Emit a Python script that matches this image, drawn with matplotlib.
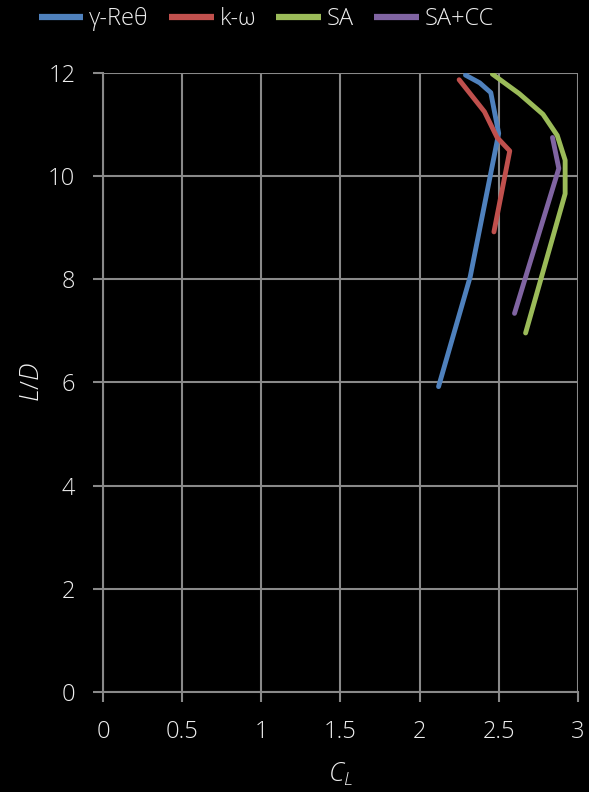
import matplotlib.pyplot as plt

# lift coefficient vs lift-to-drag ratio for each turbulence model
cl_gamma = [2.29, 2.38, 2.45, 2.50, 2.32, 2.12]
ld_gamma = [11.96, 11.81, 11.62, 10.83, 8.05, 5.92]

cl_kw = [2.25, 2.41, 2.49, 2.57, 2.47]
ld_kw = [11.87, 11.25, 10.75, 10.49, 8.92]

cl_sa = [2.46, 2.63, 2.78, 2.87, 2.92, 2.92, 2.67]
ld_sa = [11.98, 11.60, 11.20, 10.79, 10.31, 9.66, 6.96]

cl_sacc = [2.84, 2.88, 2.60]
ld_sacc = [10.75, 10.15, 7.34]

labels = ['γ-Reθ', 'k-ω', 'SA', 'SA+CC']
colors = ['#4f81bd', '#c0504d', '#9bbb59', '#8064a2']

plt.rcParams['font.family'] = ['Open Sans', 'DejaVu Sans']
plt.rcParams['font.weight'] = 'light'
plt.rcParams['mathtext.fontset'] = 'custom'
plt.rcParams['mathtext.it'] = 'Open Sans:italic:light'
plt.rcParams['mathtext.rm'] = 'Open Sans:light'
txt = '#eeeeee'
grid = '#898989'

fig = plt.figure(figsize=(5.89, 7.92), dpi=100, facecolor='black')
ax = fig.add_axes([0.175, 0.1263, 0.806, 0.7815], facecolor='black')

series = [(cl_gamma, ld_gamma), (cl_kw, ld_kw), (cl_sa, ld_sa), (cl_sacc, ld_sacc)]
lines = []
for (x, y), c, lab in zip(series, colors, labels):
    l, = ax.plot(x, y, color=c, lw=3.5, label=lab, solid_capstyle='round',
                 solid_joinstyle='round', zorder=3)
    lines.append(l)

ax.set_xlim(0, 3)
ax.set_ylim(0, 12)
ax.set_xticks([0, 0.5, 1, 1.5, 2, 2.5, 3])
ax.set_xticklabels(['0', '0.5', '1', '1.5', '2', '2.5', '3'])
ax.set_yticks(range(0, 13, 2))
ax.grid(True, color=grid, lw=1.5)
for s in ['top', 'right']:
    ax.spines[s].set_visible(False)
for s in ['left', 'bottom']:
    ax.spines[s].set_color(grid)
    ax.spines[s].set_linewidth(1.5)
ax.tick_params(colors=grid, labelcolor=txt, labelsize=17, length=7, width=1.5,
               direction='out')
ax.tick_params(axis='x', pad=13)
ax.tick_params(axis='y', pad=13)

ax.set_xlabel('$C_L$', color=txt, fontsize=19, labelpad=12)
ax.set_ylabel('$L/D$', color=txt, fontsize=19, labelpad=2)

leg = fig.legend(handles=lines, loc='upper center', bbox_to_anchor=(0.452, 1.018),
                 ncol=4, frameon=False, fontsize=17, handlelength=1.9,
                 handletextpad=0.25, columnspacing=0.85, labelcolor=txt)
for h in leg.legend_handles:
    h.set_linewidth(4.5)
    h.set_solid_capstyle('butt')

fig.savefig('out.png', dpi=100, facecolor='black')
